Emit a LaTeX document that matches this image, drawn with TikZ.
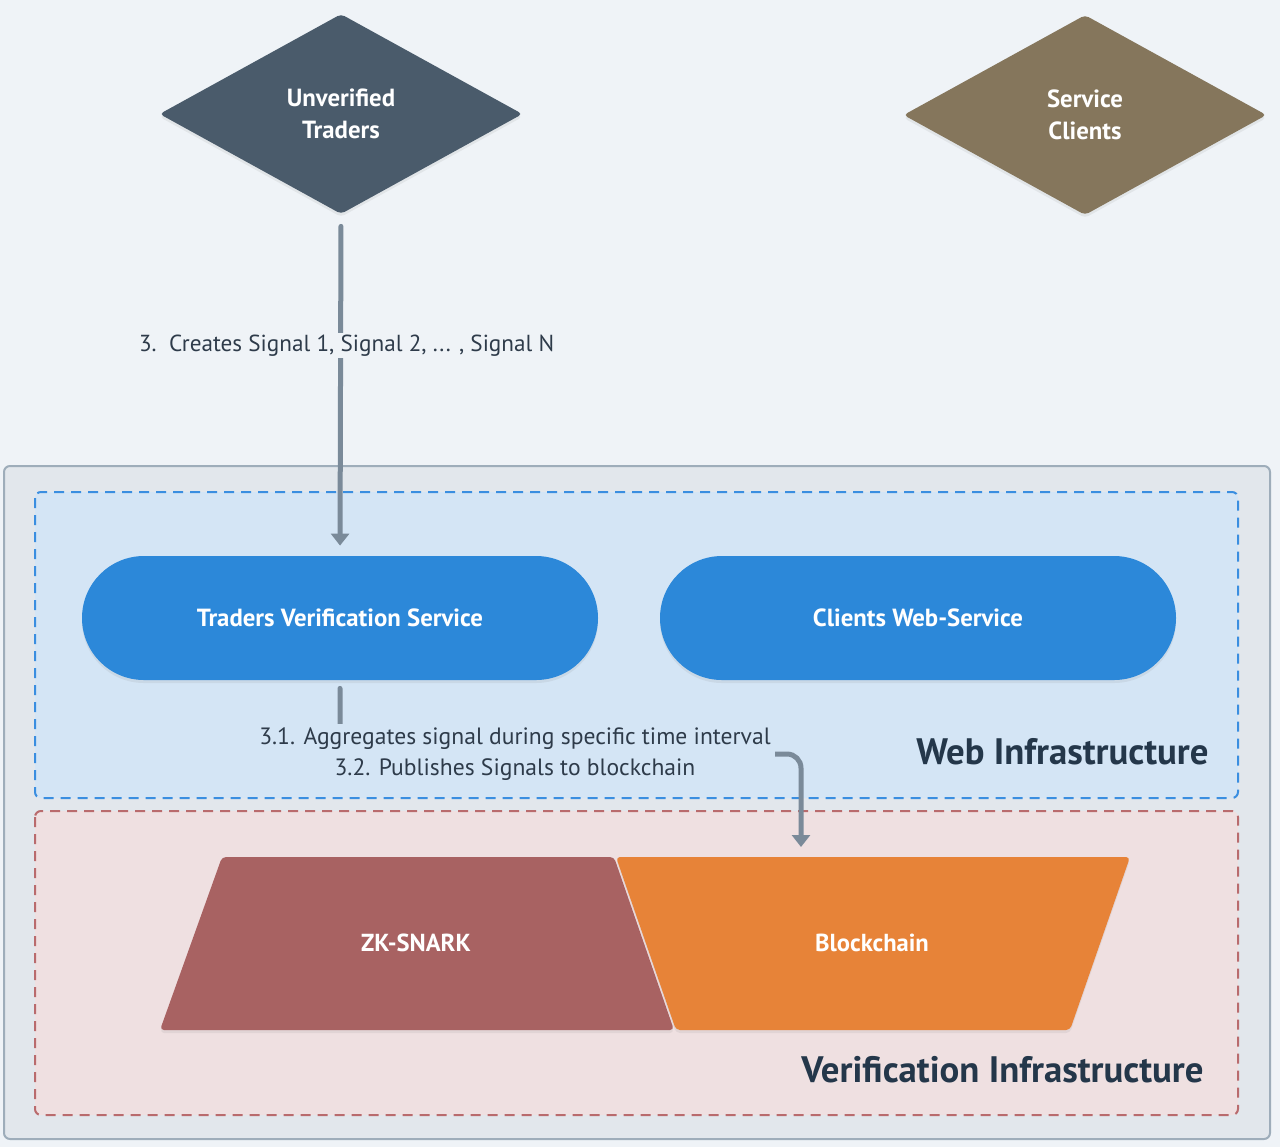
\documentclass[tikz,border=0pt]{standalone}
\usepackage{fontspec}
\setmainfont{PT Sans}
\usetikzlibrary{shapes.geometric,arrows.meta,shadows}

\definecolor{pagebg}{HTML}{EFF3F7}
\definecolor{outerfill}{HTML}{E2E7EC}
\definecolor{outerline}{HTML}{9EADBA}
\definecolor{webfill}{HTML}{D4E5F5}
\definecolor{webline}{HTML}{3A8EE0}
\definecolor{verfill}{HTML}{EFE0E1}
\definecolor{verline}{HTML}{B96B6D}
\definecolor{connline}{HTML}{7A8A99}
\definecolor{traderfill}{HTML}{4A5B6B}
\definecolor{clientfill}{HTML}{85765C}
\definecolor{servfill}{HTML}{2C88D9}
\definecolor{zkfill}{HTML}{A86262}
\definecolor{chainfill}{HTML}{E78338}
\definecolor{labeltext}{HTML}{2E3B4A}
\definecolor{titletext}{HTML}{24374A}

\tikzset{
  softshadow/.style={drop shadow={opacity=0.12, shadow xshift=0pt, shadow yshift=-1.5pt}},
  actor/.style={diamond, fill=#1, text=white, font=\bfseries\fontsize{12.4}{16}\selectfont,
    minimum width=181.5pt, minimum height=100pt, inner sep=0pt, rounded corners=2pt,
    align=center, softshadow},
  service/.style={rectangle, fill=servfill, text=white, font=\bfseries\fontsize{12.4}{14}\selectfont,
    minimum width=258pt, minimum height=62pt, rounded corners=31pt, inner sep=0pt, softshadow},
  blocktext/.style={text=white, font=\bfseries\fontsize{12.3}{14}\selectfont, inner sep=0pt},
  group/.style={draw=#1, line width=1pt, dash pattern=on 5pt off 3.5pt, rounded corners=3pt},
  grouptitle/.style={text=titletext, font=\bfseries\fontsize{18.4}{21}\selectfont, anchor=east, inner sep=0pt},
  conn/.style={draw=connline, line width=2.5pt, line cap=round,
    -{Triangle[width=9pt,length=6pt]}},
  connlabel/.style={text=labeltext, font=\fontsize{11.8}{15.5}\selectfont, align=center, inner sep=2pt},
}

\begin{document}
\begin{tikzpicture}[x=0.5pt,y=-0.5pt]
  % page
  \fill[pagebg] (0,0) rectangle (1280,1147);
  \useasboundingbox (0,0) rectangle (1280,1147);

  % containers
  \filldraw[fill=outerfill, draw=outerline, line width=1pt, rounded corners=3pt] (4,466) rectangle (1270,1139);
  \fill[webfill, rounded corners=3pt] (35,492) rectangle (1238,798);
  \draw[group=webline] (35,492) rectangle (1238,798);
  \fill[verfill, rounded corners=3pt] (35,811) rectangle (1238,1115);
  \draw[group=verline] (35,811) rectangle (1238,1115);

  \node[grouptitle] (webtitle) at (1209,752) {Web Infrastructure};
  \node[grouptitle] (vertitle) at (1204,1070) {Verification Infrastructure};

  % actors
  \node[actor=traderfill] (traders) at (341,114) {Unverified\\Traders};
  \node[actor=clientfill] (clients) at (1085,115) {Service\\Clients};

  % services
  \node[service] (tvs) at (340,618) {Traders Verification Service};
  \node[service] (cws) at (918,618) {Clients Web-Service};

  % verification blocks
  \fill[zkfill, rounded corners=2pt, softshadow]
    (222,857) -- (614,857) -- (674,1030) -- (160,1030) -- cycle;
  \fill[chainfill, rounded corners=2pt, softshadow]
    (616,857) -- (1130,857) -- (1070,1030) -- (676,1030) -- cycle;
  \node[blocktext] (zk) at (416,943) {ZK-SNARK};
  \node[blocktext] (chain) at (872,943) {Blockchain};

  % connectors
  \coordinate (chainin) at (801,857);
  \coordinate (bend) at (801,754);
  \draw[conn, shorten <=6pt, shorten >=5pt] (traders.south) -- (tvs.north)
    node[pos=0.385, connlabel, font=\fontsize{11.6}{15}\selectfont, fill=pagebg, inner ysep=1pt, xshift=3pt] (lbl3)
    {3.\ \ Creates Signal 1, Signal 2, ... , Signal N};
  \draw[conn, shorten <=4pt, shorten >=5pt, rounded corners=7pt] (tvs.south) |- (bend) -- (chainin);
  \node[connlabel, fill=webfill, inner xsep=2pt] (lbl31) at (515,754)
    {3.1. Aggregates signal during specific time interval\\3.2. Publishes Signals to blockchain};
\end{tikzpicture}
\end{document}
